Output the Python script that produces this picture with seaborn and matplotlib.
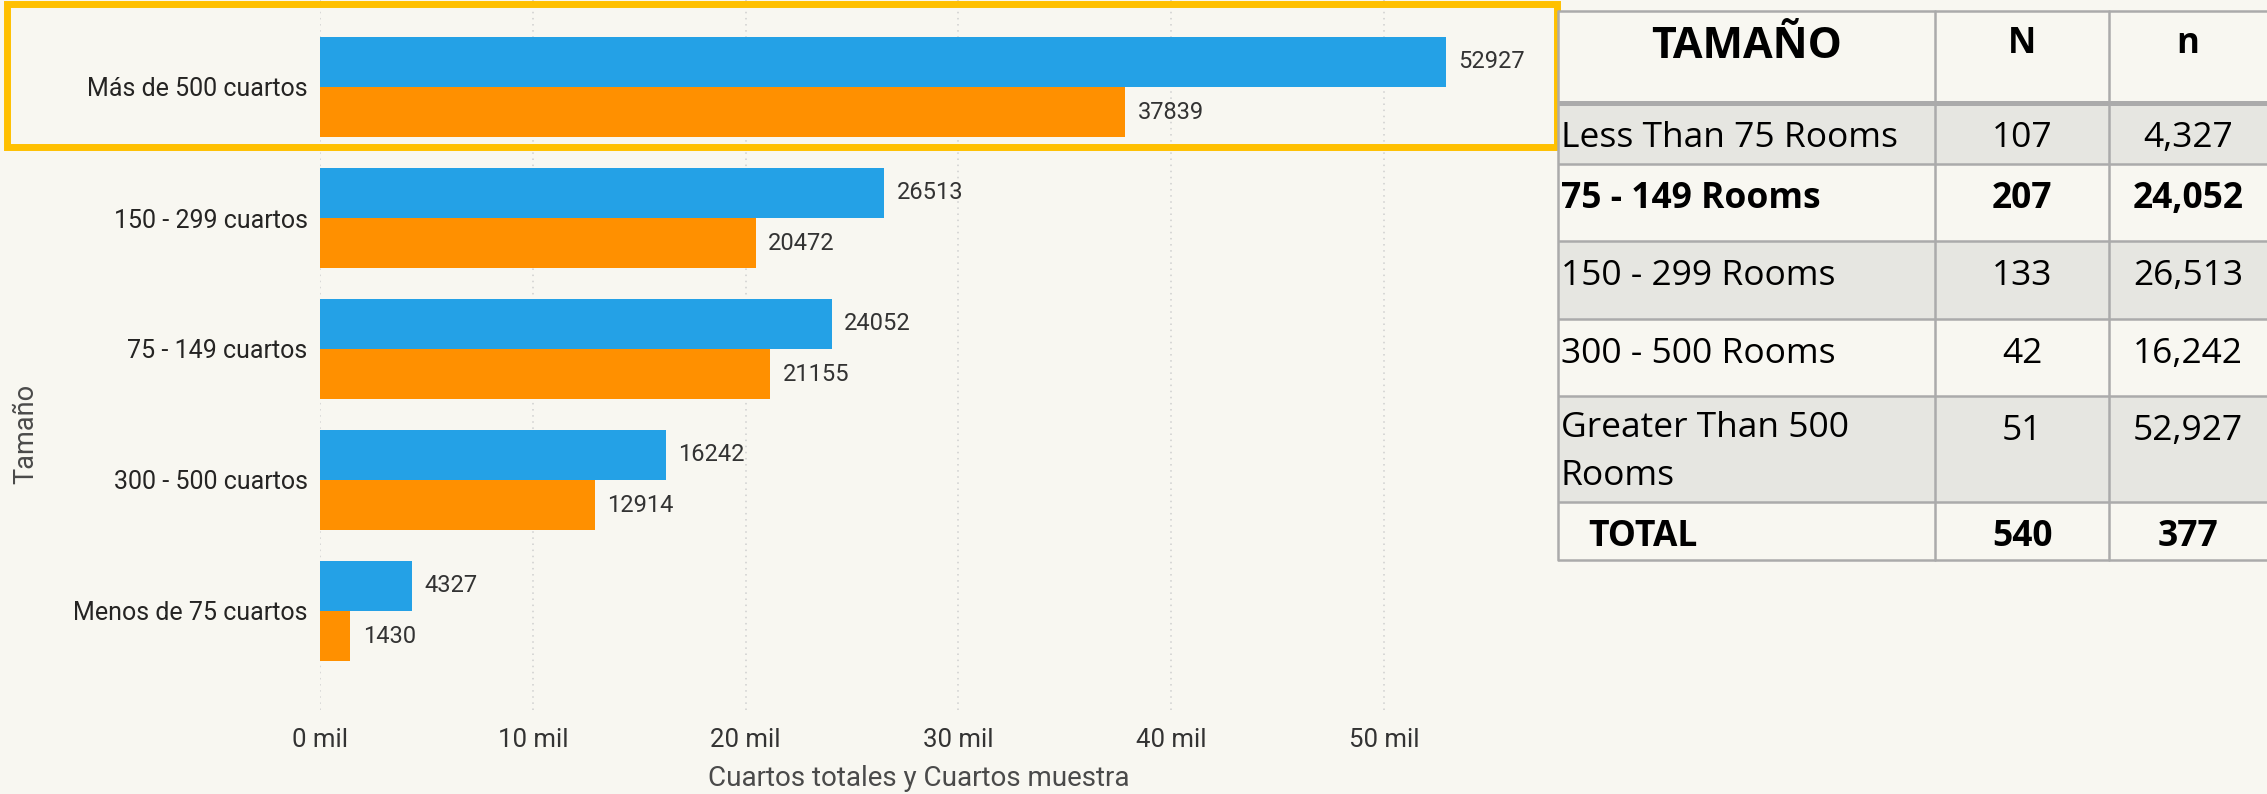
import matplotlib
matplotlib.use("Agg")
import numpy as np
import pandas as pd
import matplotlib.pyplot as plt
import seaborn as sns
from matplotlib.patches import Rectangle
from matplotlib.ticker import FuncFormatter

# datos del grafico
categorias = ["Más de 500 cuartos", "150 - 299 cuartos", "75 - 149 cuartos",
              "300 - 500 cuartos", "Menos de 75 cuartos"]
cuartos_totales = [52927, 26513, 24052, 16242, 4327]
cuartos_muestra = [37839, 20472, 21155, 12914, 1430]

# datos de la tabla
tabla_tamano = ["Less Than 75 Rooms", "75 - 149 Rooms", "150 - 299 Rooms",
                "300 - 500 Rooms", "Greater Than 500\nRooms", "TOTAL"]
tabla_N = ["107", "207", "133", "42", "51", "540"]
tabla_n = ["4,327", "24,052", "26,513", "16,242", "52,927", "377"]
filas_negrita = [1, 5]

azul = "#24A1E6"
naranja = "#FF9000"
fondo = "#F8F7F1"
gris_fila = "#E6E6E1"

sns.set_theme(style="white")
plt.rcParams["font.family"] = ["Roboto", "DejaVu Sans"]

W, H = 2267, 794
fig = plt.figure(figsize=(W / 100, H / 100), dpi=100)
fig.patch.set_facecolor(fondo)

# ejes del grafico de barras (en pixeles de la figura)
left, right, top, bottom = 320, 1554, 0, 710
ax = fig.add_axes([left / W, 1 - bottom / H, (right - left) / W, (bottom - top) / H])
ax.set_facecolor(fondo)

df = pd.DataFrame({
    "Tamaño": categorias * 2,
    "valor": cuartos_totales + cuartos_muestra,
    "serie": ["Cuartos totales"] * len(categorias) + ["Cuartos muestra"] * len(categorias),
})
sns.barplot(data=df, y="Tamaño", x="valor", hue="serie", orient="h",
            palette=[azul, naranja], width=0.77, gap=0, saturation=1,
            errorbar=None, legend=False, linewidth=0, ax=ax)

for cont in ax.containers:
    ax.bar_label(cont, labels=[f"{int(v)}" for v in cont.datavalues],
                 padding=9, fontsize=17, color="#333333")

pitch = 131.0
ax.set_ylim(-87 / pitch + (bottom - top) / pitch, -87 / pitch)
ax.set_xlim(0, 58000)
ax.set_xticks([0, 10000, 20000, 30000, 40000, 50000])
ax.xaxis.set_major_formatter(FuncFormatter(lambda v, p: f"{v / 1000:.0f} mil"))
ax.tick_params(axis="x", length=0, pad=13, labelsize=18.5, labelcolor="#333333")
ax.tick_params(axis="y", length=0, pad=9, labelsize=18, labelcolor="#252423")
ax.xaxis.grid(True, linestyle=(0, (1, 3)), color="#CFCFCF", linewidth=1.1)
ax.set_axisbelow(True)
for s in ax.spines.values():
    s.set_visible(False)

ax.set_xlabel("Cuartos totales y Cuartos muestra", fontsize=20, color="#4A4A4A")
ax.xaxis.set_label_coords((919 - left) / (right - left), -(778 - bottom) / (bottom - top))
ax.xaxis.label.set_va("center")
ax.set_ylabel("Tamaño", fontsize=19.5, color="#4A4A4A")
ax.yaxis.set_label_coords((26 - left) / (right - left), 1 - 434 / (bottom - top))
ax.yaxis.label.set_va("center")

# capa superior: recuadro amarillo y tabla
ov = fig.add_axes([0, 0, 1, 1], zorder=5)
ov.set_xlim(0, W)
ov.set_ylim(H, 0)
ov.axis("off")
ov.patch.set_alpha(0)

ov.add_patch(Rectangle((7, 4), 1550, 143, fill=False, edgecolor="#FFC000", linewidth=5))

tfont = ["Open Sans", "DejaVu Sans"]
col_x = [1558, 1935, 2109, W]
filas_y = [11, 103, 164, 241, 319, 396, 502, 560]

for i in range(len(filas_y) - 1):
    color = gris_fila if i in (1, 3, 5) else fondo
    ov.add_patch(Rectangle((col_x[0], filas_y[i]), W - col_x[0], filas_y[i + 1] - filas_y[i],
                           facecolor=color, edgecolor="none", zorder=1))

for j, y in enumerate(filas_y):
    ov.plot([col_x[0], W], [y, y], color="#ABABAB", lw=3.6 if j == 1 else 1.8,
            solid_capstyle="butt", zorder=2)
for x in col_x[:3]:
    ov.plot([x, x], [filas_y[0], filas_y[-1]], color="#ABABAB", lw=1.8, zorder=2)

c1 = (col_x[0] + col_x[1]) / 2
c2 = (col_x[1] + col_x[2]) / 2
c3 = (col_x[2] + col_x[3]) / 2
ov.text(c1, 47, "TAMAÑO", ha="center", va="center", fontsize=31, fontweight="bold",
        family=tfont, color="black", zorder=3)
ov.text(c2, 44, "N", ha="center", va="center", fontsize=25, fontweight="bold",
        family=tfont, color="black", zorder=3)
ov.text(c3, 44, "n", ha="center", va="center", fontsize=25, fontweight="bold",
        family=tfont, color="black", zorder=3)

for i, (t, N, n) in enumerate(zip(tabla_tamano, tabla_N, tabla_n)):
    y = filas_y[i + 1] + 35
    peso = "bold" if i in filas_negrita else "normal"
    xt = 1588 if t == "TOTAL" else 1561
    if "\n" in t:
        ov.text(xt, y - 20, t, ha="left", va="top", fontsize=25.5, fontweight=peso,
                family=tfont, color="black", linespacing=1.55, zorder=3)
    else:
        ov.text(xt, y, t, ha="left", va="center", fontsize=25.5, fontweight=peso,
                family=tfont, color="black", zorder=3)
    ov.text(c2, y, N, ha="center", va="center", fontsize=25.5, fontweight=peso,
            family=tfont, color="black", zorder=3)
    ov.text(c3, y, n, ha="center", va="center", fontsize=25.5, fontweight=peso,
            family=tfont, color="black", zorder=3)

fig.savefig("out.png", dpi=100, facecolor=fondo)
